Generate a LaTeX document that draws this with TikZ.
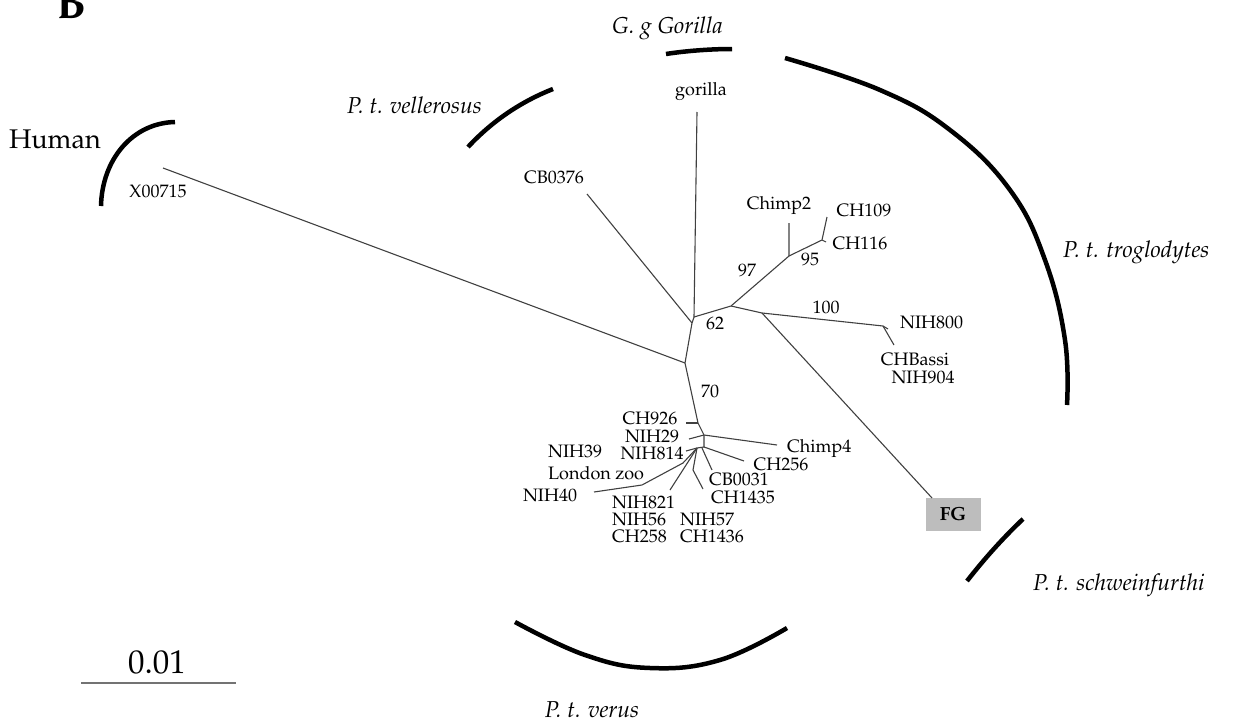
\documentclass[tikz,border=0pt]{standalone}
\usepackage[T1]{fontenc}
\renewcommand{\rmdefault}{ppl}
\begin{document}
\begin{tikzpicture}[x=1pt,y=-1pt,
  br/.style={draw=black!75, line width=1.1pt, line join=round},
  arcl/.style={line width=4.5pt, line cap=butt},
  lab/.style={inner sep=0pt, font=\fontsize{18}{18}\selectfont},
  grp/.style={inner sep=0pt, font=\fontsize{23}{24}\selectfont\itshape}]
\useasboundingbox (0,0) rectangle (1242,728);

% ---- tree coordinates ----
\coordinate (X) at (163,168);
\coordinate (A) at (685,363);
\coordinate (B1) at (692,323);
\coordinate (B2) at (694,317);
\coordinate (Gor) at (697,112);
\coordinate (CB) at (587,194);
\coordinate (C) at (731,306);
\coordinate (D) at (789,256);
\coordinate (Ch2) at (789,223);
\coordinate (E) at (822,240);
\coordinate (C109) at (827,217);
\coordinate (C116) at (826,242);
\coordinate (F) at (762,313);
\coordinate (G) at (883,326);
\coordinate (N800) at (888,329);
\coordinate (Bas) at (894,345);
\coordinate (H1) at (698,423);
\coordinate (C926) at (686,423);
\coordinate (H2) at (704,435);
\coordinate (N29) at (689,439);
\coordinate (Ch4) at (777,445);
\coordinate (H3) at (704,447);
\coordinate (C256) at (744,461);
\coordinate (H4) at (697,448);
\coordinate (N814) at (686,451);
\coordinate (H5) at (702,448);
\coordinate (CB31) at (712,470);
\coordinate (H6) at (693,470);
\coordinate (N57) at (703,489);
\coordinate (N821) at (670,490);
\coordinate (L1) at (683,463);
\coordinate (L2) at (642,485);
\coordinate (N40) at (594,492);

% ---- FG box ----
\node[draw=none, fill=black!26, minimum width=55pt, minimum height=33pt, inner sep=0pt,
      font=\fontsize{19}{19}\selectfont\bfseries] (FG) at (953,514) {FG};
\coordinate (FGc) at (932,498);

% ---- branches ----
\draw[br] (X) -- (A);
\draw[br] (A) -- (B1) -- (B2) -- (Gor);
\draw[br] (CB) -- (B1);
\draw[br] (B2) -- (C) -- (D) -- (Ch2);
\draw[br] (D) -- (E) -- (C109);
\draw[br] (E) -- (C116);
\draw[br] (C) -- (F) -- (G) -- (N800);
\draw[br] (G) -- (Bas);
\draw[br] (F) -- (FGc);
\draw[br] (A) -- (H1) -- (H2) -- (Ch4);
\draw[br] (C926) -- (H1);
\draw[br] (N29) -- (H2);
\draw[br] (H2) -- (H3) -- (C256);
\draw[br] (N814) -- (H4) -- (H3);
\draw[br] (H5) -- (CB31);
\draw[br] (H4) -- (H6) -- (N57);
\draw[br] (H4) -- (N821);
\draw[br] (H4) -- (L1) -- (L2) -- (N40);

% ---- group arcs ----
\draw[arcl] (101,206) .. controls (102,160) and (132,123) .. (175,122);
\draw[arcl] (468,147) .. controls (495,118) and (525,100) .. (553,89);
\draw[arcl] (666,54) .. controls (685,51) and (710,49) .. (732,49);
\draw[arcl] plot[smooth, tension=0.7] coordinates {(785,58) (880,90) (950,130) (1010,190) (1045,260) (1065,340) (1067,405)};
\draw[arcl] (967,581) .. controls (985,558) and (1003,538) .. (1023,519);
\draw[arcl] plot[smooth, tension=0.7] coordinates {(515,622) (585,655) (650,668) (720,660) (787,628)};

% ---- scale bar ----
\coordinate (S1) at (81,683);
\coordinate (S2) at (236,683);
\draw[draw=black!55, line width=1.5pt] (S1) -- (S2);
\node[inner sep=0pt, anchor=base, font=\fontsize{33}{34}\selectfont] (scl) at (157,673) {0.01};

% ---- big labels ----
\node[inner sep=0pt, anchor=base, font=\fontsize{45}{45}\selectfont\bfseries] (Bl) at (72,19) {B};
\node[inner sep=0pt, anchor=base east, font=\fontsize{27}{30}\selectfont] (hum) at (101,148) {Human};
\node[grp, anchor=base west] (ggg) at (612,33) {G. g Gorilla};
\node[grp, anchor=base east] (vel) at (482,113) {P. t. vellerosus};
\node[grp, anchor=base west] (tro) at (1063,257) {P. t. troglodytes};
\node[grp, anchor=base west] (sch) at (1033,590) {P. t. schweinfurthi};
\node[grp, anchor=base] (ver) at (592,717) {P. t. verus};

% ---- leaf labels ----
\node[lab] (lX) at (158,191) {X00715};
\node[lab, anchor=east] (lCB) at (584,177) {CB0376};
\node[lab] (lgor) at (701,92) {gorilla};
\node[lab] (lch2) at (779,206) {Chimp2};
\node[lab] (l109) at (864,210) {CH109};
\node[lab] (l116) at (860,243) {CH116};
\node[lab] (b97) at (747,270) {97};
\node[lab] (b95) at (810,259) {95};
\node[lab] (b100) at (826,307) {100};
\node[lab] (b62) at (715,323) {62};
\node[lab] (b70) at (710,391) {70};
\node[lab, anchor=west] (l800) at (900,322) {NIH800};
\node[lab] (lbas) at (915,359) {CHBassi};
\node[lab] (l904) at (923,377) {NIH904};
\node[lab] (l926) at (650,418) {CH926};
\node[lab] (l29) at (652,436) {NIH29};
\node[lab] (l814) at (652,453) {NIH814};
\node[lab, anchor=west] (l39) at (548,451) {NIH39};
\node[lab, anchor=west] (llz) at (548,473) {London zoo};
\node[lab] (l40) at (550,495) {NIH40};
\node[lab, anchor=west] (lch4) at (787,449) {Chimp4};
\node[lab] (l256) at (781,464) {CH256};
\node[lab] (l31) at (739,479) {CB0031};
\node[lab] (l1435) at (743,497) {CH1435};
\node[lab, anchor=west] (l821) at (612,502) {NIH821};
\node[lab, anchor=west] (l56) at (612,519) {NIH56};
\node[lab, anchor=west] (l258) at (612,536) {CH258};
\node[lab, anchor=west] (l57) at (680,519) {NIH57};
\node[lab, anchor=west] (l1436) at (680,536) {CH1436};
\end{tikzpicture}
\end{document}
